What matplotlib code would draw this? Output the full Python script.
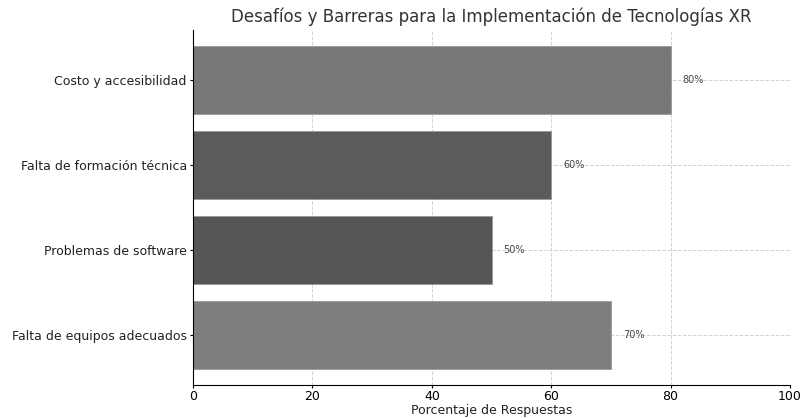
import numpy as np
import matplotlib.pyplot as plt

# datos de la encuesta (de abajo hacia arriba)
categorias = ['Falta de equipos adecuados', 'Problemas de software',
              'Falta de formación técnica', 'Costo y accesibilidad']
porcentajes = [70, 50, 60, 80]
colores = ['#7e7e7e', '#565656', '#5b5b5b', '#787878']

fig = plt.figure(figsize=(8.02, 4.18), dpi=100)
ax = fig.add_axes([0.2407, 0.079, 0.7443, 0.849])

y = np.arange(len(categorias))
barras = ax.barh(y, porcentajes, height=0.8, color=colores, edgecolor='#9a9a9a', linewidth=0.6)

for b, v in zip(barras, porcentajes):
    ax.text(v + 2, b.get_y() + b.get_height() / 2, f'{v}%',
            va='center', ha='left', fontsize=7, color='#444444')

ax.set_yticks(y)
ax.set_yticklabels(categorias, fontsize=9, color='#222222')
ax.tick_params(axis='y', pad=2, length=2.5)
ax.set_xlim(0, 100)
ax.set_xticks([0, 20, 40, 60, 80, 100])
ax.tick_params(axis='x', labelsize=9, length=2, pad=1.5)
ax.set_xlabel('Porcentaje de Respuestas', fontsize=9, color='#222222', labelpad=1)
ax.set_title('Desafíos y Barreras para la Implementación de Tecnologías XR',
             fontsize=12, color='#333333')

ax.grid(True, linestyle='--', color='#d2d2d2', linewidth=0.7)
ax.set_axisbelow(True)
ax.spines['top'].set_visible(False)
ax.spines['right'].set_visible(False)

plt.savefig('out.png', dpi=100)
